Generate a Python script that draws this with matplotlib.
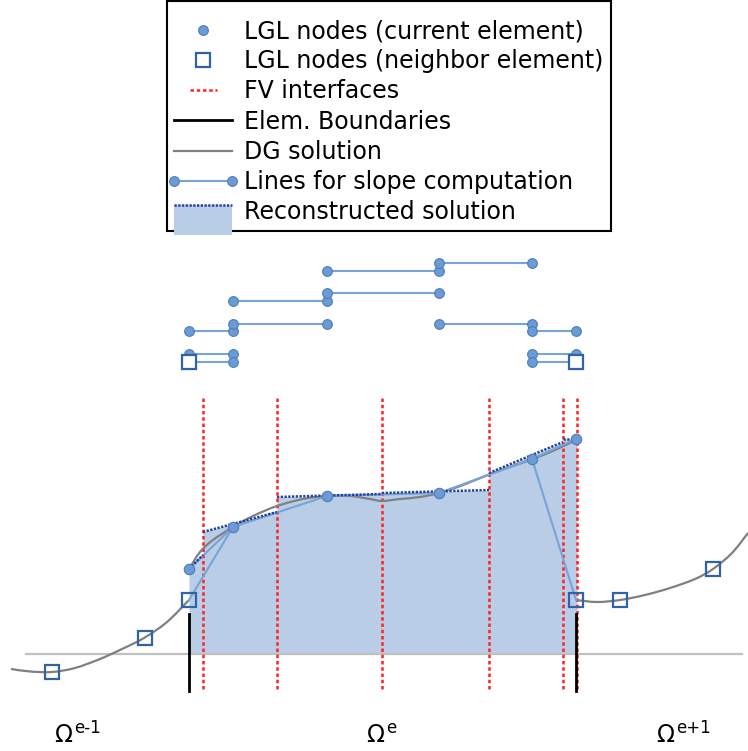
import numpy as np
import matplotlib
matplotlib.use('Agg')
import matplotlib.pyplot as plt
from matplotlib.lines import Line2D
from matplotlib.patches import Patch, Rectangle, PathPatch
from matplotlib.path import Path
from matplotlib.legend_handler import HandlerLine2D, HandlerBase

plt.rcParams['font.family'] = ['DejaVu Sans']

# --- values (pixel-like units, y grows downwards) ---
# LGL nodes of the current element
node_x = [189, 233, 327, 439, 532, 576]
node_u = [569, 527, 496, 493, 459, 439]
# LGL nodes of the neighbour elements
left_nb_x = [52, 145, 189]
left_nb_u = [672, 638, 600]
right_nb_x = [576, 620, 713]
right_nb_u = [600, 600, 569]

fv_x = [203, 277, 382, 489, 563, 577]
elem_x = [189, 576]
elem_top, elem_bot = 614, 691
fv_top, fv_bot = 398, 691
base_u = 654
base_x = [26, 742]

# DG solution samples
dg_left_x = [11, 30, 52, 75, 100, 122, 144, 167, 189]
dg_left_u = [669, 671.5, 672, 668, 659, 649, 638, 622, 600]
dg_mid_x = [189, 200, 213, 233, 253, 277, 303, 327, 350, 370, 382, 400,
            420, 439, 463, 490, 510, 533, 555, 576]
dg_mid_u = [569, 552, 540, 527, 516, 506, 499, 496, 496, 499, 501, 499,
            497, 493, 485, 474, 467, 459, 450, 440]
dg_right_x = [576, 597, 620, 645, 670, 695, 713, 732, 748]
dg_right_u = [600, 602, 600, 595, 588, 579, 569, 553, 533]

# reconstructed (linear) solution per FV cell
rec_xl = [189, 203, 277, 382, 489, 563]
rec_xr = [203, 277, 382, 489, 563, 577]
rec_ul = [569, 532, 497, 493, 473, 439]
rec_ur = [555, 512, 494, 490, 442, 439]

# stencils drawn above the plot: x of both ends, row, end markers
st_x0 = [189, 189, 189, 233, 233, 327, 327, 439, 439, 532, 532, 532]
st_x1 = [233, 233, 233, 327, 327, 439, 439, 532, 532, 576, 576, 576]
st_row = [331, 354, 362, 324, 301, 293, 271, 263, 324, 331, 354, 362]
st_ends = ['oo', 'oo', 'so', 'oo', 'oo', 'oo', 'oo', 'oo', 'oo', 'oo', 'oo', 'os']

omega_x = [54, 366, 656]
omega_sup = ['e-1', 'e', 'e+1']
omega_y = 742

labels = ['LGL nodes (current element)', 'LGL nodes (neighbor element)',
          'FV interfaces', 'Elem. Boundaries', 'DG solution',
          'Lines for slope computation', 'Reconstructed solution']

c_node, c_node_e = '#6b9bd2', '#4a7dbf'
c_slope = '#76a3d8'
c_sq = '#2f63a8'
c_fill = '#b9cee6'
c_rec = '#2340a0'
c_fv = '#ff2222'
c_dg = '#808080'
c_base = '#c0c0c0'


def smooth_path(xs, ys):
    # cubic (Catmull-Rom) path through the read points
    p = np.column_stack([xs, ys]).astype(float)
    verts, codes = [p[0]], [Path.MOVETO]
    for i in range(len(p) - 1):
        p0 = p[i - 1] if i > 0 else p[i]
        p3 = p[i + 2] if i + 2 < len(p) else p[i + 1]
        verts += [p[i] + (p[i + 1] - p0) / 6, p[i + 1] - (p3 - p[i]) / 6, p[i + 1]]
        codes += [Path.CURVE4] * 3
    return Path(verts, codes)


fig = plt.figure(figsize=(7.48, 7.51), dpi=100)
ax = fig.add_axes([0, 0, 1, 1])
ax.set_xlim(0, 748)
ax.set_ylim(751, 0)
ax.axis('off')

# filled reconstruction
fx = np.ravel(np.column_stack([rec_xl, rec_xr]))
fu = np.ravel(np.column_stack([rec_ul, rec_ur]))
ax.fill_between(fx, fu, base_u, color=c_fill, lw=0, zorder=1)
ax.plot(base_x, [base_u, base_u], color=c_base, lw=1.6, zorder=2)

for x in fv_x:
    ax.plot([x, x], [fv_top, fv_bot], color=c_fv, lw=1.8, dashes=(1.4, 1.1), zorder=3)
for x in elem_x:
    ax.plot([x, x], [elem_top, elem_bot], color='black', lw=2, zorder=3)

for xs, us in [(dg_left_x, dg_left_u), (dg_mid_x, dg_mid_u), (dg_right_x, dg_right_u)]:
    ax.add_patch(PathPatch(smooth_path(xs, us), fill=False, edgecolor=c_dg,
                           lw=1.6, zorder=4))

# slope lines in the element
sl_x = [left_nb_x[-1]] + node_x + [right_nb_x[0]]
sl_u = [left_nb_u[-1]] + node_u + [right_nb_u[0]]
ax.plot([sl_x[0], sl_x[2]], [sl_u[0], sl_u[2]], color=c_slope, lw=1.5, zorder=5)
ax.plot(node_x, node_u, color=c_slope, lw=1.5, zorder=5)
ax.plot([sl_x[-3], sl_x[-1]], [sl_u[-3], sl_u[-1]], color=c_slope, lw=1.5, zorder=5)

for xl, xr, ul, ur in zip(rec_xl, rec_xr, rec_ul, rec_ur):
    ax.plot([xl, xr], [ul, ur], color=c_rec, lw=1.8, dashes=(0.9, 0.6), zorder=6)

ax.plot(node_x, node_u, ls='none', marker='o', ms=7.5, mfc=c_node, mec=c_node_e,
        mew=0.8, zorder=7)
ax.plot(left_nb_x + right_nb_x, left_nb_u + right_nb_u, ls='none', marker='s',
        ms=9.5, mfc='none', mec=c_sq, mew=1.6, zorder=7)

# stencils
for x0, x1, y, ends in zip(st_x0, st_x1, st_row, st_ends):
    ax.plot([x0, x1], [y, y], color=c_slope, lw=1.5, zorder=5)
    for xe, m in zip([x0, x1], ends):
        if m == 'o':
            ax.plot(xe, y, marker='o', ms=7, mfc=c_node, mec=c_node_e, mew=0.8, zorder=7)
        else:
            ax.plot(xe, y, marker='s', ms=9.5, mfc='white', mec=c_sq, mew=1.6, zorder=8)

for x, s in zip(omega_x, omega_sup):
    ax.text(x, omega_y, '\u03a9', fontsize=17, ha='left', va='baseline')
    ax.text(x + 20, omega_y - 9, s, fontsize=12, ha='left', va='baseline')


class HandlerRecon(HandlerBase):
    def create_artists(self, legend, orig_handle, xdescent, ydescent,
                       width, height, fontsize, trans):
        top = -ydescent + height * 0.86
        rect = Rectangle((-xdescent, top - 1.8 * height), width, 1.8 * height,
                         facecolor=c_fill, edgecolor='none', transform=trans)
        line = Line2D([-xdescent, -xdescent + width], [top, top], color=c_rec,
                      lw=1.8, dashes=(0.9, 0.6), transform=trans)
        return [rect, line]


class HandlerShort(HandlerBase):
    # shorter, centred line (FV interfaces entry)
    def create_artists(self, legend, orig_handle, xdescent, ydescent,
                       width, height, fontsize, trans):
        xc, yc = -xdescent + width / 2, -ydescent + height / 2
        line = Line2D([xc - 0.24 * width, xc + 0.24 * width], [yc, yc],
                      transform=trans)
        line.update_from(orig_handle)
        line.set_transform(trans)
        return [line]


h_cur = Line2D([], [], ls='none', marker='o', ms=7, mfc=c_node, mec=c_node_e, mew=0.8)
h_nb = Line2D([], [], ls='none', marker='s', ms=9.5, mfc='none', mec=c_sq, mew=1.6)
h_fv = Line2D([], [], color=c_fv, lw=1.8, dashes=(1.4, 1.1))
h_el = Line2D([], [], color='black', lw=2)
h_dg = Line2D([], [], color=c_dg, lw=1.6)
h_sl = Line2D([], [], color=c_slope, lw=1.5, marker='o', ms=7, mfc=c_node,
              mec=c_node_e, mew=0.8)
h_rec = Patch(facecolor=c_fill)

leg = ax.legend([h_cur, h_nb, h_fv, h_el, h_dg, h_sl, h_rec], labels,
                loc='upper center', bbox_to_anchor=(389 / 748, 1 - 1 / 751),
                fontsize=17, handlelength=2.45, handletextpad=0.5,
                labelspacing=0.26, borderpad=0.3, borderaxespad=0,
                title=' ', title_fontsize=3.5,
                fancybox=False, framealpha=1, edgecolor='black',
                handler_map={h_sl: HandlerLine2D(numpoints=2, marker_pad=0),
                             h_rec: HandlerRecon(), h_fv: HandlerShort()})
leg.get_frame().set_linewidth(1.5)

fig.savefig('out.png', dpi=100)
